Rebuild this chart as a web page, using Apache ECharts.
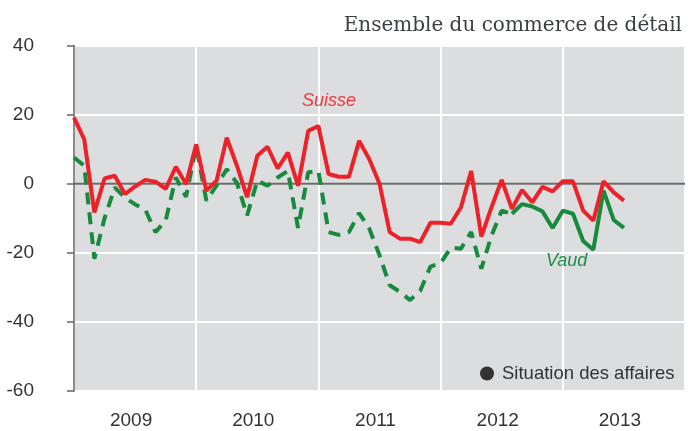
<!DOCTYPE html>
<html>
<head>
<meta charset="utf-8">
<script src="https://cdn.jsdelivr.net/npm/echarts@6/dist/echarts.min.js"></script>
<style>
html,body{margin:0;padding:0;background:#fff;}
#chart{width:688px;height:431px;}
</style>
</head>
<body>
<div id="chart"></div>
<script>
// Monthly data, January 2009 (index 0) onwards
const years = ['2009', '2010', '2011', '2012', '2013'];
const yTicks = [-60, -40, -20, 0, 20, 40];
const suisse = [19.1, 12.9, -8.3, 1.5, 2.3, -3.0, -0.8, 1.1, 0.6, -1.5, 4.9, -0.1,
  11.4, -2.0, 0.9, 13.3, 5.2, -3.9, 8.1, 10.7, 4.4, 9.0, -0.6, 15.3,
  16.7, 2.8, 2.0, 2.0, 12.4, 7.1, 0.0, -14.0, -15.9, -15.9, -16.9, -11.3,
  -11.3, -11.6, -6.8, 3.7, -15.3, -6.8, 1.1, -7.3, -1.8, -5.4, -0.9, -2.2,
  0.7, 0.7, -7.8, -10.7, 0.7, -2.5, -4.9];
const vaud = [7.6, 5.2, -21.7, -10.0, -1.1, -4.0, -6.0, -7.5, -14.0, -10.7, 1.8, -3.8,
  10.8, -4.9, -0.5, 4.2, 0.2, -9.2, 0.9, -0.6, 1.8, 3.7, -12.8, 3.3,
  3.7, -14.0, -14.8, -14.0, -8.5, -13.0, -20.7, -29.4, -31.3, -33.7, -31.0, -24.0,
  -23.0, -18.5, -18.8, -14.0, -24.6, -15.0, -7.8, -8.7, -5.9, -6.6, -8.0, -12.8,
  -7.8, -8.7, -16.6, -19.1, -2.0, -10.5, -12.8];
const vaudSolidFrom = 43; // Vaud drawn dashed before this month, solid after
const labels = {title: 'Ensemble du commerce de détail', suisse: 'Suisse', vaud: 'Vaud', legend: 'Situation des affaires'};

const suisseData = suisse.map((v, i) => [i, v]);
const vaudDashed = vaud.map((v, i) => [i, i <= vaudSolidFrom ? v : null]);
const vaudSolid = vaud.map((v, i) => [i, i >= vaudSolidFrom ? v : null]);
const nMonths = years.length * 12;

const RED = '#ec2228';
const GREEN = '#178a3e';

const chart = echarts.init(document.getElementById('chart'), null, {renderer: 'canvas'});
chart.setOption({
  animation: false,
  backgroundColor: '#ffffff',
  title: {
    text: labels.title, right: 1, top: 11,
    textStyle: {fontFamily: 'DejaVu Serif', fontWeight: 'normal', fontSize: 20, color: '#3c3f41'}
  },
  grid: {left: 74, right: 0, top: 45.5, bottom: 40, show: true, backgroundColor: '#dcdddf', borderWidth: 0},
  legend: {
    show: true, left: 475, top: 359, icon: 'circle', itemWidth: 14, itemHeight: 14, itemGap: 0,
    data: [labels.legend],
    textStyle: {fontFamily: 'Liberation Sans', fontSize: 18.5, color: '#333', padding: [0, 0, 0, 3]}
  },
  xAxis: [
    {type: 'value', min: 0, max: nMonths, interval: 12,
     axisLine: {show: false}, axisTick: {show: false}, axisLabel: {show: false},
     splitLine: {show: true, lineStyle: {color: '#ffffff', width: 2}}},
    {type: 'value', min: 0, max: nMonths, interval: 6, position: 'bottom',
     axisLine: {show: false}, axisTick: {show: false}, splitLine: {show: false},
     axisLabel: {show: true, margin: 20, fontFamily: 'Liberation Sans', fontSize: 19, color: '#333',
       padding: [0, 8, 0, 0],
       formatter: v => (v % 12 === 6 ? years[(v - 6) / 12] : '')}}
  ],
  yAxis: {
    type: 'value', min: yTicks[0], max: yTicks[yTicks.length - 1], interval: 20, offset: 18,
    axisLine: {show: true, lineStyle: {color: '#666', width: 1.5}},
    axisTick: {show: true, length: 7, lineStyle: {color: '#666', width: 1.5}},
    axisLabel: {margin: 22, fontFamily: 'Liberation Sans', fontSize: 19, color: '#333'},
    splitLine: {show: true, lineStyle: {color: '#ffffff', width: 2}}
  },
  series: [
    {name: labels.legend, type: 'line', data: [], itemStyle: {color: '#333'}},
    {type: 'line', data: [[0, 0], [nMonths, 0]], symbol: 'none', silent: true,
     lineStyle: {color: '#6a6a6a', width: 2}, z: 1},
    {type: 'line', name: 'VaudD', data: vaudDashed, symbol: 'none', connectNulls: false,
     lineStyle: {color: GREEN, width: 4, type: [12, 8]}, z: 2},
    {type: 'line', name: 'VaudS', data: vaudSolid, symbol: 'none', connectNulls: false,
     lineStyle: {color: GREEN, width: 4}, z: 2},
    {type: 'line', name: 'Suisse', data: suisseData, symbol: 'none',
     lineStyle: {color: RED, width: 4}, z: 3}
  ],
  graphic: [
    {type: 'text', left: 302, top: 92, z: 100, style: {text: labels.suisse, fill: '#ee3a3f',
      font: 'italic 18px "Liberation Sans"'}},
    {type: 'text', left: 546, top: 252, z: 100, style: {text: labels.vaud, fill: '#1f8c45',
      font: 'italic 18px "Liberation Sans"'}}
  ]
});
</script>
</body>
</html>
